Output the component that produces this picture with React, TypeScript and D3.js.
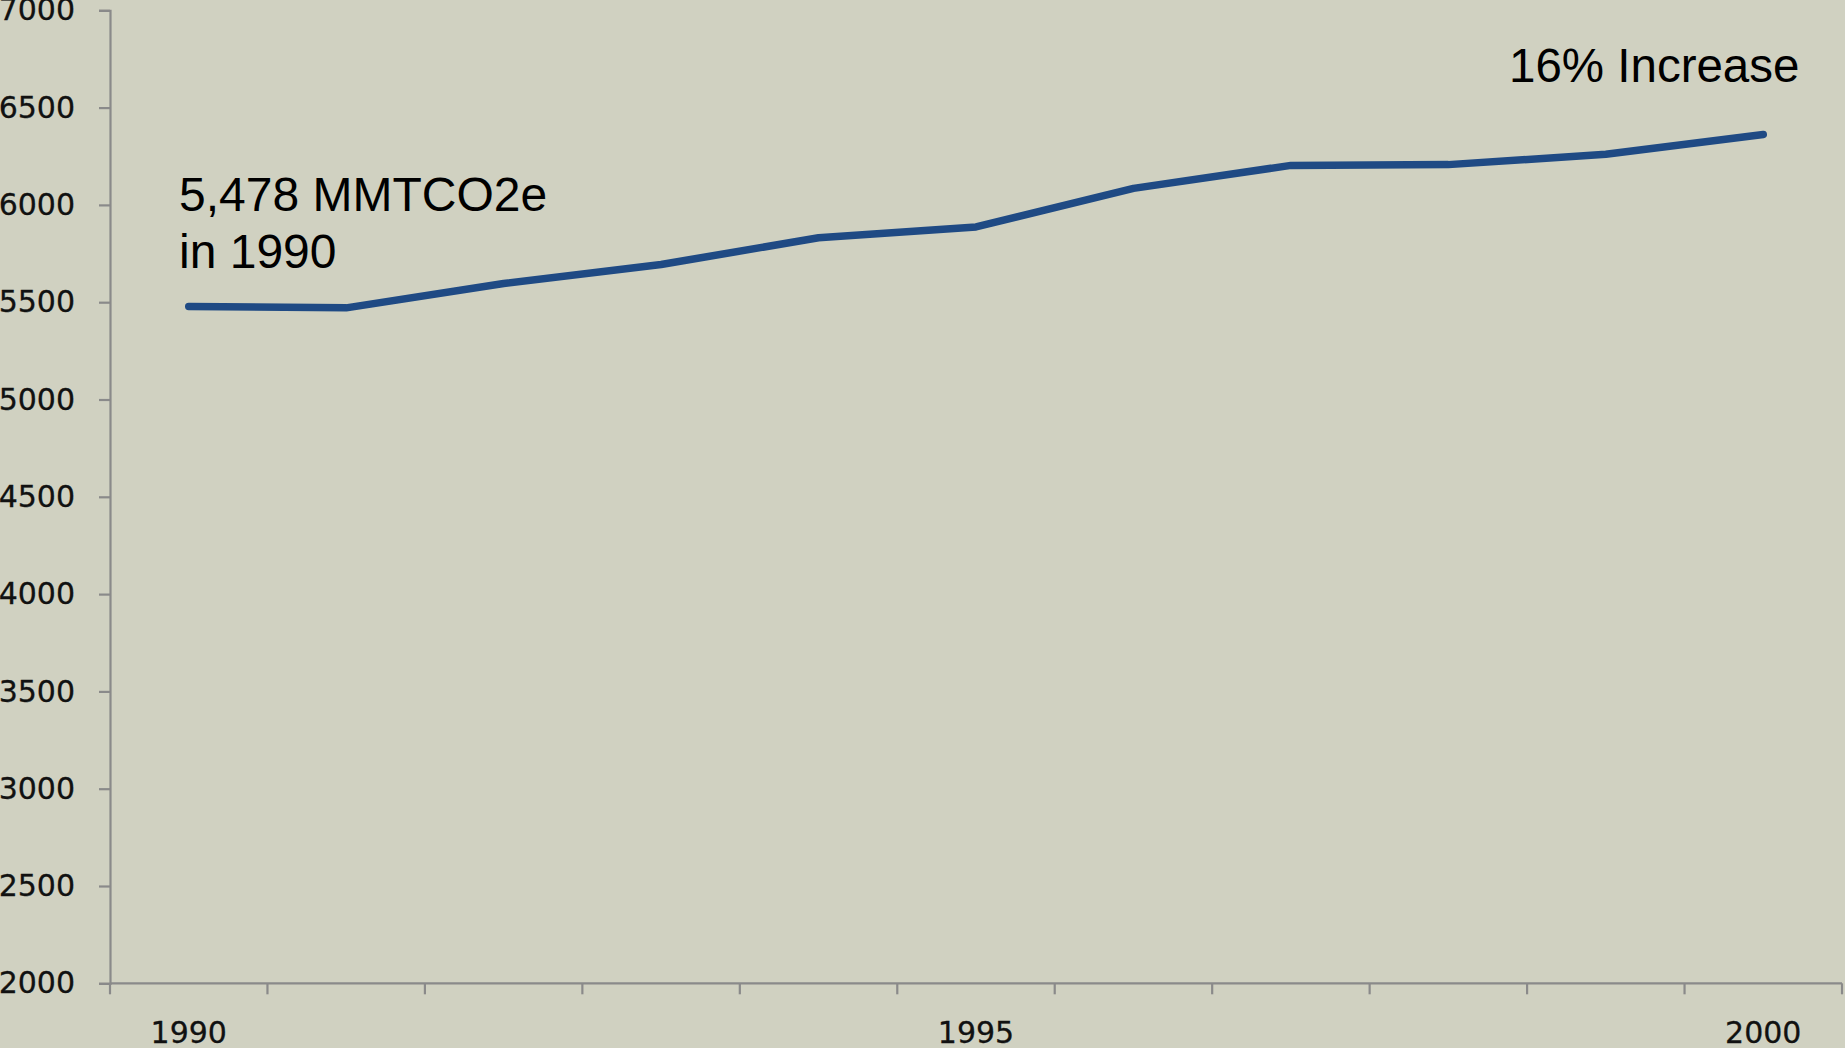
import * as d3 from 'd3';
import { useEffect, useRef } from 'react';

// emissions, MMTCO2e
const years = [1990, 1991, 1992, 1993, 1994, 1995, 1996, 1997, 1998, 1999, 2000];
const emissions = [5478, 5471, 5596, 5694, 5831, 5887, 6085, 6203, 6207, 6260, 6362];
const yTicks = [2000, 2500, 3000, 3500, 4000, 4500, 5000, 5500, 6000, 6500, 7000];
const xLabels = [1990, 1995, 2000];
const startNote = ['5,478 MMTCO2e', 'in 1990'];
const endNote = '16% Increase';

const W = 1845;
const H = 1048;

export default function App() {
  const svgRef = useRef<SVGSVGElement>(null);

  useEffect(() => {
    const margin = { top: 10.3, right: 3, bottom: 64.7, left: 110 };
    const svg = d3.select(svgRef.current);
    svg.selectAll('*').remove();

    const x = d3.scaleBand<number>()
      .domain(years)
      .range([margin.left, W - margin.right]);
    const y = d3.scaleLinear()
      .domain([2000, 7000])
      .range([H - margin.bottom, margin.top]);

    const axisColor = '#8a8a8a';
    const tickFont = '"DejaVu Sans", Verdana, sans-serif';

    // y axis
    const gy = svg.append('g')
      .attr('transform', `translate(${margin.left},0)`)
      .call(d3.axisLeft(y).tickValues(yTicks).tickSize(11).tickPadding(24).tickFormat(d3.format('d')));
    gy.select('.domain').attr('stroke', axisColor).attr('stroke-width', 2.2);
    gy.selectAll('.tick line').attr('stroke', axisColor).attr('stroke-width', 2.2);
    gy.selectAll('.tick text')
      .attr('fill', '#111')
      .attr('stroke', '#111')
      .attr('stroke-width', 0.3)
      .style('font-family', tickFont)
      .style('font-size', '30px');

    // x axis: ticks on category boundaries, labels every 5 years
    const x0 = margin.left;
    const x1 = W - margin.right;
    const yb = y(2000);
    const gx = svg.append('g');
    gx.append('line')
      .attr('x1', x0).attr('x2', x1).attr('y1', yb).attr('y2', yb)
      .attr('stroke', axisColor).attr('stroke-width', 2.2);
    const bounds = years.map((d) => x(d) as number).concat([x1]);
    gx.selectAll('line.tk')
      .data(bounds)
      .enter()
      .append('line')
      .attr('class', 'tk')
      .attr('x1', (d) => d).attr('x2', (d) => d)
      .attr('y1', yb).attr('y2', yb + 11)
      .attr('stroke', axisColor).attr('stroke-width', 2.2);
    gx.selectAll('text')
      .data(xLabels)
      .enter()
      .append('text')
      .attr('x', (d) => (x(d) as number) + x.bandwidth() / 2)
      .attr('y', yb + 60)
      .attr('text-anchor', 'middle')
      .attr('fill', '#111')
      .attr('stroke', '#111')
      .attr('stroke-width', 0.3)
      .style('font-family', tickFont)
      .style('font-size', '30px')
      .text((d) => d);

    // series line
    const line = d3.line<number>()
      .x((_, i) => (x(years[i]) as number) + x.bandwidth() / 2)
      .y((d) => y(d));
    svg.append('path')
      .datum(emissions)
      .attr('d', line)
      .attr('fill', 'none')
      .attr('stroke', '#1f4a84')
      .attr('stroke-width', 7.5)
      .attr('stroke-linecap', 'round')
      .attr('stroke-linejoin', 'round');

    // annotations
    const noteFont = '"Liberation Sans", Arial, sans-serif';
    svg.append('text')
      .attr('x', 179)
      .attr('y', 211)
      .style('font-family', noteFont)
      .style('font-size', '48px')
      .attr('fill', '#000')
      .selectAll('tspan')
      .data(startNote)
      .enter()
      .append('tspan')
      .attr('x', 179)
      .attr('dy', (_, i) => (i === 0 ? 0 : 57))
      .text((d) => d);
    svg.append('text')
      .attr('x', 1509)
      .attr('y', 82)
      .style('font-family', noteFont)
      .style('font-size', '47.5px')
      .attr('fill', '#000')
      .text(endNote);
  }, []);

  return (
    <div style={{ position: 'absolute', left: 0, top: 0, width: W, height: H, background: '#d0d1c1' }}>
      <svg ref={svgRef} width={W} height={H} style={{ display: 'block' }}></svg>
    </div>
  );
}
